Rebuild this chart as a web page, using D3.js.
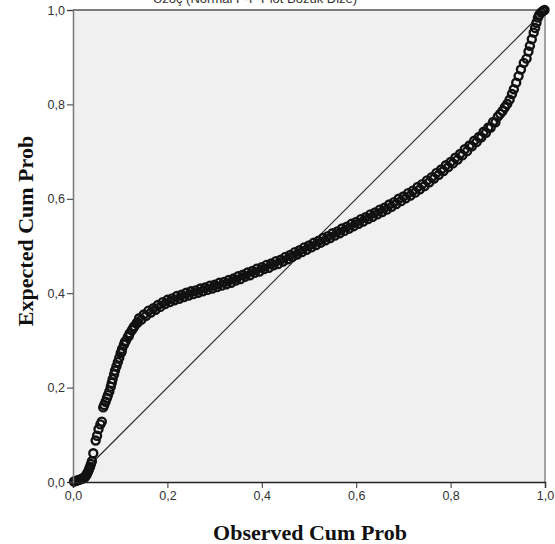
<!DOCTYPE html>
<html>
<head>
<meta charset="utf-8">
<script src="https://cdn.jsdelivr.net/npm/d3@7"></script>
<style>
  body { margin: 0; background: #fff; }
  svg { display: block; }
</style>
</head>
<body>
<svg id="chart" width="555" height="544"></svg>
<script>
// P-P plot values (observed vs expected cum prob)
const observed = [
    0.002, 0.005, 0.008, 0.011, 0.014, 0.017, 0.020, 0.023, 0.026, 0.028,
    0.030, 0.032, 0.034, 0.036, 0.038, 0.040, 0.043, 0.048, 0.051, 0.054,
    0.058, 0.061, 0.064, 0.066, 0.069, 0.072, 0.074, 0.077, 0.080, 0.082,
    0.084, 0.087, 0.089, 0.092, 0.095, 0.098, 0.101, 0.103, 0.104, 0.108,
    0.110, 0.112, 0.116, 0.118, 0.120, 0.125, 0.128, 0.130, 0.135, 0.137,
    0.140, 0.145, 0.150, 0.155, 0.160, 0.165, 0.170, 0.175, 0.180, 0.185,
    0.190, 0.195, 0.200, 0.205, 0.210, 0.215, 0.220, 0.225, 0.230, 0.235,
    0.240, 0.245, 0.250, 0.255, 0.260, 0.265, 0.270, 0.275, 0.280, 0.285,
    0.290, 0.295, 0.300, 0.305, 0.310, 0.315, 0.320, 0.325, 0.330, 0.335,
    0.340, 0.345, 0.350, 0.355, 0.360, 0.365, 0.370, 0.375, 0.380, 0.385,
    0.390, 0.395, 0.400, 0.405, 0.410, 0.415, 0.420, 0.425, 0.430, 0.435,
    0.440, 0.445, 0.450, 0.455, 0.460, 0.465, 0.470, 0.475, 0.480, 0.485,
    0.490, 0.495, 0.500, 0.505, 0.510, 0.515, 0.520, 0.525, 0.530, 0.535,
    0.540, 0.545, 0.550, 0.555, 0.560, 0.565, 0.570, 0.575, 0.580, 0.585,
    0.590, 0.595, 0.600, 0.605, 0.610, 0.615, 0.620, 0.625, 0.630, 0.635,
    0.640, 0.645, 0.650, 0.655, 0.660, 0.665, 0.670, 0.675, 0.680, 0.685,
    0.690, 0.695, 0.700, 0.705, 0.710, 0.715, 0.720, 0.725, 0.730, 0.735,
    0.740, 0.745, 0.750, 0.755, 0.760, 0.765, 0.770, 0.775, 0.780, 0.785,
    0.790, 0.795, 0.800, 0.805, 0.810, 0.815, 0.820, 0.825, 0.830, 0.835,
    0.840, 0.845, 0.850, 0.855, 0.860, 0.865, 0.870, 0.875, 0.880, 0.885,
    0.890, 0.895, 0.900,
    0.905, 0.910, 0.915, 0.920, 0.925, 0.930, 0.934, 0.939, 0.944, 0.949,
    0.955, 0.961, 0.965, 0.968, 0.972, 0.976, 0.979, 0.982, 0.985, 0.988,
    0.992, 0.996, 0.999
];
const expected = [
    0.001, 0.002, 0.003, 0.004, 0.005, 0.006, 0.007, 0.009, 0.011, 0.014,
    0.018, 0.022, 0.027, 0.032, 0.038, 0.044, 0.061, 0.088, 0.098, 0.112,
    0.122, 0.128, 0.158, 0.163, 0.170, 0.178, 0.184, 0.192, 0.202, 0.210,
    0.218, 0.228, 0.236, 0.245, 0.254, 0.263, 0.273, 0.276, 0.282, 0.291,
    0.297, 0.299, 0.307, 0.309, 0.315, 0.322, 0.327, 0.330, 0.337, 0.338,
    0.347, 0.344, 0.355, 0.352, 0.363, 0.359, 0.368, 0.365, 0.375, 0.371,
    0.381, 0.377, 0.386, 0.381, 0.389, 0.385, 0.394, 0.388, 0.397, 0.392,
    0.401, 0.395, 0.404, 0.398, 0.406, 0.401, 0.410, 0.404, 0.412, 0.407,
    0.416, 0.410, 0.418, 0.413, 0.422, 0.416, 0.424, 0.419, 0.428, 0.422,
    0.431, 0.427, 0.436, 0.430, 0.439, 0.435, 0.444, 0.438, 0.447, 0.443,
    0.452, 0.446, 0.455, 0.451, 0.460, 0.454, 0.463, 0.459, 0.468, 0.462,
    0.471, 0.467, 0.477, 0.472, 0.481, 0.477, 0.487, 0.482, 0.491, 0.487,
    0.497, 0.492, 0.501, 0.497, 0.507, 0.502, 0.511, 0.507, 0.517, 0.512,
    0.521, 0.517, 0.527, 0.522, 0.531, 0.527, 0.537, 0.532, 0.541, 0.537,
    0.547, 0.542, 0.551, 0.547, 0.557, 0.552, 0.561, 0.557, 0.567, 0.562,
    0.571, 0.567, 0.577, 0.572, 0.581, 0.577, 0.588, 0.583, 0.593, 0.589,
    0.600, 0.595, 0.605, 0.601, 0.612, 0.607, 0.617, 0.613, 0.625, 0.620,
    0.631, 0.627, 0.639, 0.635, 0.646, 0.643, 0.655, 0.651, 0.662, 0.659,
    0.671, 0.667, 0.678, 0.675, 0.687, 0.683, 0.695, 0.692, 0.705, 0.701,
    0.713, 0.711, 0.723, 0.720, 0.731, 0.730, 0.742, 0.740, 0.751, 0.751,
    0.763, 0.762, 0.774,
    0.780, 0.786, 0.794, 0.801, 0.810, 0.822, 0.832, 0.846, 0.860, 0.874,
    0.888, 0.897, 0.912, 0.924, 0.938, 0.952, 0.962, 0.973, 0.984, 0.990,
    0.995, 0.998, 1.000
];
const tickValues = [0, 0.2, 0.4, 0.6, 0.8, 1.0];
const refLine = [0, 1];

const title = 'Uzoç (Normal P-P Plot Bozuk Dize)';
const xTitle = 'Observed Cum Prob';
const yTitle = 'Expected Cum Prob';

const svg = d3.select('#chart');
const plotL = 73, plotR = 545, plotT = 10, plotB = 482;

const x = d3.scaleLinear().domain([0, 1]).range([plotL, plotR]);
const y = d3.scaleLinear().domain([0, 1]).range([plotB, plotT]);
const fmt = (d) => d3.format('.1f')(d).replace('.', ',');

// title, cut off by the top edge as in the source
svg.append('text')
    .attr('x', 255).attr('y', 3)
    .attr('text-anchor', 'middle')
    .style('font-family', 'Liberation Sans, Arial, sans-serif')
    .style('font-size', '13px')
    .style('fill', '#333')
    .text(title);

// plot background
svg.append('rect')
    .attr('x', plotL).attr('y', plotT)
    .attr('width', plotR - plotL).attr('height', plotB - plotT)
    .attr('fill', '#f0f0f0');

// frame on top and right
svg.append('line')
    .attr('x1', plotL).attr('x2', plotR).attr('y1', plotT).attr('y2', plotT)
    .attr('stroke', '#555').attr('stroke-width', 1.5);
svg.append('line')
    .attr('x1', plotR).attr('x2', plotR).attr('y1', plotT).attr('y2', plotB)
    .attr('stroke', '#888').attr('stroke-width', 1.5);

// reference diagonal
svg.append('line')
    .attr('x1', x(refLine[0])).attr('y1', y(refLine[0]))
    .attr('x2', x(refLine[1])).attr('y2', y(refLine[1]))
    .attr('stroke', '#222').attr('stroke-width', 1.1);

// points
svg.append('g')
    .selectAll('circle')
    .data(observed.map((o, i) => [o, expected[i]]))
    .enter().append('circle')
    .attr('cx', (d) => x(d[0]))
    .attr('cy', (d) => y(d[1]))
    .attr('r', 4)
    .attr('fill', 'none')
    .attr('stroke', '#111')
    .attr('stroke-width', 2.4);

// axes
const xAxis = svg.append('g')
    .attr('transform', `translate(0,${plotB})`)
    .call(d3.axisBottom(x).tickValues(tickValues).tickFormat(fmt).tickSizeOuter(0).tickSize(6).tickPadding(3));
const yAxis = svg.append('g')
    .attr('transform', `translate(${plotL},0)`)
    .call(d3.axisLeft(y).tickValues(tickValues).tickFormat(fmt).tickSizeOuter(0).tickSize(6).tickPadding(2));

xAxis.select('.domain').attr('stroke', '#222').attr('stroke-width', 1.5);
yAxis.select('.domain').attr('stroke', '#777').attr('stroke-width', 1.5);
[xAxis, yAxis].forEach((ax) => {
    ax.selectAll('.tick line').attr('stroke', '#333');
    ax.selectAll('.tick text')
        .style('font-family', 'Liberation Sans, Arial, sans-serif')
        .style('font-size', '12.5px')
        .style('fill', '#333');
});

// axis titles
svg.append('text')
    .attr('x', 310).attr('y', 540)
    .attr('text-anchor', 'middle')
    .style('font-family', 'Liberation Serif, Times New Roman, serif')
    .style('font-weight', 'bold')
    .style('font-size', '22px')
    .style('fill', '#111')
    .text(xTitle);
svg.append('text')
    .attr('transform', 'translate(33,231) rotate(-90)')
    .attr('text-anchor', 'middle')
    .style('font-family', 'Liberation Serif, Times New Roman, serif')
    .style('font-weight', 'bold')
    .style('font-size', '22px')
    .style('fill', '#111')
    .text(yTitle);
</script>
</body>
</html>
